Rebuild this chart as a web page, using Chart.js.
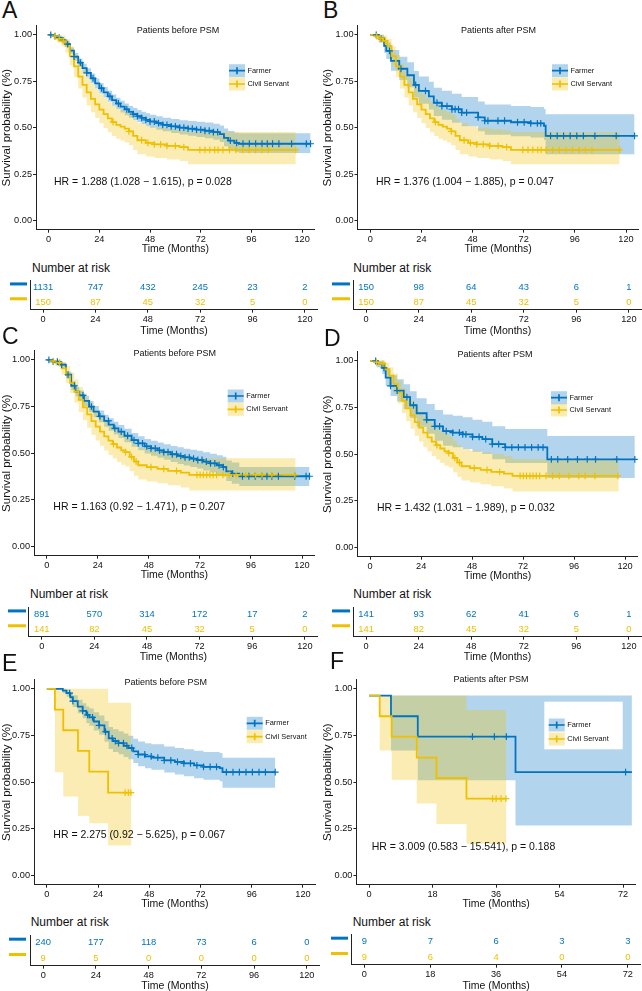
<!DOCTYPE html>
<html>
<head>
<meta charset="utf-8">
<script src="https://cdn.jsdelivr.net/npm/chart.js@4.4.1/dist/chart.umd.min.js"></script>
<style>
  html, body { margin: 0; padding: 0; background: #fff; }
  body { position: relative; width: 642px; height: 991px; overflow: hidden; font-family: "Liberation Sans", Arial, sans-serif; color: #111; }
  canvas { position: absolute; }
  .tag { position: absolute; font-size: 23px; line-height: 23px; }
  .nar { position: absolute; font-size: 12px; line-height: 12px; white-space: nowrap; }
</style>
</head>
<body>
<script>
// Dados: [tempo (meses), sobrevida, IC inferior, IC superior]
const groups = ['Farmer', 'Civil Servant'];
const monthTicks = [0, 24, 48, 72, 96, 120];
const monthTicksF = [0, 18, 36, 54, 72];
const survTicks = [0, 0.25, 0.5, 0.75, 1];

const farmerA = [
  [0,1,1,1],[2,0.993,0.988,0.998],[4,0.985,0.977,0.992],[6,0.97,0.96,0.98],[8,0.95,0.937,0.963],
  [10,0.915,0.898,0.932],[12,0.882,0.862,0.902],[14,0.85,0.828,0.872],[16,0.82,0.797,0.844],
  [18,0.795,0.77,0.82],[20,0.765,0.739,0.791],[22,0.738,0.711,0.765],[24,0.712,0.684,0.74],
  [26,0.69,0.662,0.719],[28,0.668,0.639,0.698],[30,0.648,0.618,0.678],[32,0.63,0.6,0.661],
  [34,0.613,0.582,0.645],[36,0.598,0.567,0.63],[38,0.585,0.553,0.617],[40,0.573,0.541,0.606],
  [42,0.562,0.529,0.595],[44,0.552,0.519,0.586],[46,0.542,0.508,0.577],[48,0.533,0.499,0.569],
  [51,0.524,0.489,0.561],[54,0.515,0.48,0.553],[58,0.507,0.471,0.546],[62,0.5,0.463,0.54],
  [66,0.494,0.456,0.535],[70,0.489,0.45,0.531],[74,0.483,0.443,0.527],[78,0.476,0.435,0.521],
  [81,0.465,0.422,0.512],[83,0.445,0.4,0.495],[85,0.43,0.384,0.482],[88,0.418,0.37,0.472],
  [90,0.413,0.363,0.469],[124,0.413,0.363,0.469]
];
const civil150 = [
  [0,1,1,1],[2,0.993,0.98,1],[4,0.98,0.958,1],[6,0.967,0.938,0.996],[8,0.94,0.903,0.978],
  [10,0.885,0.836,0.937],[12,0.83,0.772,0.892],[14,0.775,0.711,0.845],[16,0.73,0.662,0.805],
  [18,0.69,0.619,0.769],[20,0.655,0.583,0.736],[22,0.625,0.552,0.708],[24,0.597,0.523,0.681],
  [26,0.573,0.498,0.659],[28,0.55,0.475,0.637],[30,0.53,0.455,0.618],[32,0.515,0.44,0.603],
  [34,0.505,0.43,0.594],[36,0.495,0.42,0.584],[38,0.48,0.405,0.57],[40,0.455,0.38,0.545],
  [42,0.432,0.357,0.523],[46,0.418,0.344,0.508],[50,0.41,0.336,0.5],[56,0.402,0.328,0.492],
  [62,0.395,0.32,0.486],[66,0.38,0.302,0.477],[117,0.38,0.302,0.477]
];
const farmerB = [
  [0,1,1,1],[4,0.98,0.958,1],[6.5,0.94,0.903,0.978],[7.5,0.913,0.87,0.958],[9.7,0.86,0.806,0.918],
  [13.6,0.817,0.757,0.882],[17.4,0.782,0.718,0.852],[20.5,0.73,0.662,0.805],[22.8,0.698,0.628,0.775],
  [27.5,0.668,0.597,0.747],[29.8,0.634,0.562,0.715],[33.6,0.616,0.543,0.698],[38.3,0.599,0.526,0.682],
  [42.9,0.581,0.507,0.665],[50.6,0.555,0.48,0.641],[53.7,0.537,0.462,0.624],[66,0.529,0.454,0.617],
  [75.3,0.523,0.447,0.611],[81.5,0.51,0.433,0.6],[82.3,0.455,0.357,0.572],[124,0.455,0.357,0.572]
];
const farmerC = [
  [0,1,1,1],[3,0.99,0.983,0.997],[6,0.974,0.963,0.985],[9,0.92,0.902,0.938],[11.5,0.861,0.838,0.885],
  [13.5,0.83,0.805,0.856],[15.3,0.809,0.783,0.836],[17.5,0.78,0.752,0.808],[19.9,0.749,0.72,0.779],
  [22,0.722,0.692,0.753],[24.5,0.697,0.666,0.729],[27,0.673,0.641,0.706],[29.1,0.653,0.62,0.687],
  [31.5,0.633,0.6,0.668],[33.7,0.615,0.581,0.651],[36.5,0.593,0.558,0.63],[39.9,0.57,0.534,0.608],
  [43,0.552,0.515,0.591],[46,0.536,0.498,0.576],[49,0.525,0.486,0.566],[52.1,0.515,0.475,0.557],
  [55,0.505,0.464,0.548],[58.3,0.494,0.452,0.538],[61.5,0.485,0.442,0.531],[64.4,0.477,0.433,0.524],
  [67.5,0.47,0.425,0.518],[70.6,0.463,0.417,0.512],[73.5,0.454,0.407,0.504],[76.7,0.445,0.397,0.497],
  [80,0.435,0.386,0.489],[82.8,0.425,0.375,0.48],[84.4,0.402,0.35,0.46],[87,0.39,0.336,0.45],
  [90.5,0.376,0.324,0.425],[123.5,0.376,0.324,0.425]
];
const civil141 = [
  [0,1,1,1],[2,0.993,0.98,1],[4,0.985,0.965,1],[7,0.955,0.921,0.99],[9,0.92,0.876,0.966],
  [11,0.875,0.822,0.932],[13,0.83,0.771,0.894],[15,0.785,0.72,0.855],[17,0.745,0.676,0.821],
  [19,0.708,0.636,0.788],[21,0.672,0.598,0.755],[23,0.642,0.567,0.727],[25,0.615,0.539,0.702],
  [27,0.59,0.514,0.678],[29,0.567,0.49,0.656],[31,0.548,0.471,0.638],[33,0.53,0.453,0.621],
  [35,0.515,0.438,0.606],[37,0.505,0.428,0.596],[39,0.48,0.403,0.572],[41,0.455,0.378,0.548],
  [43,0.435,0.358,0.529],[47,0.425,0.348,0.519],[52,0.415,0.338,0.51],[57,0.405,0.328,0.5],
  [63,0.395,0.316,0.49],[67,0.383,0.3,0.472],[117,0.383,0.3,0.472]
];
const farmerD = [
  [0,1,1,1],[3,0.985,0.965,1],[5.7,0.962,0.93,0.995],[7.3,0.91,0.865,0.957],[9.6,0.866,0.812,0.923],
  [12.7,0.84,0.782,0.902],[15.8,0.806,0.742,0.875],[18.8,0.762,0.693,0.837],[21.9,0.719,0.647,0.799],
  [26.6,0.684,0.609,0.768],[30.4,0.649,0.572,0.736],[34.3,0.623,0.545,0.712],[38.9,0.615,0.537,0.705],
  [43.6,0.606,0.527,0.697],[48.2,0.592,0.512,0.684],[52.8,0.58,0.5,0.673],[57.5,0.554,0.472,0.65],
  [63.6,0.536,0.453,0.634],[83.4,0.472,0.372,0.597],[124.6,0.472,0.372,0.597]
];
const farmerE = [
  [0,1,1,1],[7.5,0.99,0.977,1],[9.2,0.977,0.958,0.996],[11,0.955,0.929,0.981],[12.2,0.934,0.903,0.966],
  [14.5,0.905,0.869,0.942],[16.8,0.882,0.842,0.923],[18.5,0.86,0.817,0.905],[19.9,0.847,0.802,0.894],
  [22,0.825,0.777,0.875],[24.5,0.804,0.754,0.857],[27,0.77,0.716,0.827],[29,0.735,0.678,0.796],
  [31,0.72,0.662,0.783],[33.6,0.709,0.65,0.773],[36,0.695,0.635,0.76],[38.2,0.683,0.622,0.749],
  [40.5,0.665,0.603,0.733],[42.8,0.648,0.585,0.718],[46,0.638,0.574,0.709],[49,0.631,0.566,0.703],
  [55,0.617,0.551,0.691],[60,0.608,0.541,0.683],[64.2,0.6,0.532,0.676],[69,0.59,0.521,0.668],
  [73.4,0.582,0.512,0.661],[81,0.575,0.504,0.656],[82.3,0.553,0.47,0.631],[107,0.553,0.47,0.631]
];
const civilE = [
  [0,1,1,1],[3.8,0.889,0.553,1],[7.7,0.778,0.423,1],[14.6,0.667,0.319,1],[19.9,0.556,0.28,1],
  [28.7,0.444,0.16,0.925],[39.6,0.444,0.16,0.925]
];
const farmerF = [
  [0,0.964,0.964,0.964],[6.2,0.853,0.669,0.964],[13.8,0.744,0.51,0.964],[41.5,0.553,0.267,0.964],
  [74.5,0.553,0.267,0.964]
];
const civilF = [
  [0,0.964,0.964,0.964],[3,0.853,0.669,0.964],[6.4,0.744,0.513,0.964],[13.5,0.631,0.385,0.964],
  [19.1,0.522,0.276,0.964],[27.6,0.411,0.17,0.887],[38.9,0.411,0.17,0.887]
];

// tempos de censura (+)
const farmerCensA = [1,3,5,7,9,12,15,18,21,25,29,33,37,40,42,44,46,48,50,52,54,56,58,60,62,64,66,68,70,72,74,76,78,80,86,89,92,95,98,101,103.5,106,109,115,122,124];
const civilCens150 = [3,5,7,30.5,38,44,47,50,53,56,60,64,71.6,74,76.3,78.6,80.2,82.5,85.6,88.7,91.8,94.9,98,101,104,117];
const farmerCensB = [2.8,5.1,9,14.4,21.3,25.9,31.3,33.6,36,38.3,39.8,41.4,42.9,45.2,50.6,53.7,55.2,59.9,63,69.1,72.2,75.3,78.4,80,84.6,87.7,90.7,93.8,96.9,100,105.4,115.4,124];
const farmerCensC = [1,3,5,7,10,13,17,21,25,29,32,35,38,41,43,45,47,49,51,53,55,57,59,61,63,65,67,69,71,73,75,77,79,81,83,87.4,92,95,98,101.2,103.5,105.8,108.9,116.6,121.9,123.5];
const civilCens141 = [3,6,31.4,37,39.9,42,49,55,61,70.6,72.1,73.6,75.2,76.7,78.2,79.8,82.8,85.9,89,93.6,98.2,101.2,105.8,116.6];
const farmerCensD = [2.6,6.5,9.6,12.7,17.3,20.4,26.6,30.4,32.7,35.8,38.9,42,43.6,45.1,48.2,51.3,54.4,57.5,60.5,63.6,66.7,69.8,72.9,76,79.1,81.4,85.3,88.3,93,97.6,102.2,106.1,116.1,124.6];
const farmerCensE = [10.7,12.2,16.8,19.1,21.4,24.5,27.5,30.6,32.1,33.6,35.9,37.5,39.8,42.8,45.9,48.9,52,55,58.1,61.2,64.2,67.3,70.3,73.4,76.5,79.5,84.1,87.2,90.2,93.3,96.3,99.4,102.4,107];
const civilCensE = [36.7,38.2,39.4];
const farmerCensF = [29.3,35.5,38.9,72.7];
const civilCensF = [35,36,37.4,38.8];

// número em risco
const riskA = [[1131,747,432,245,23,2],[150,87,45,32,5,0]];
const riskB = [[150,98,64,43,6,1],[150,87,45,32,5,0]];
const riskC = [[891,570,314,172,17,2],[141,82,45,32,5,0]];
const riskD = [[141,93,62,41,6,1],[141,82,45,32,5,0]];
const riskE = [[240,177,118,73,6,0],[9,5,0,0,0,0]];
const riskF = [[9,7,6,3,3],[9,6,4,0,0]];

const hrTexts = [
  'HR = 1.288 (1.028 \u2212 1.615), p = 0.028',
  'HR = 1.376 (1.004 \u2212 1.885), p = 0.047',
  'HR = 1.163 (0.92 \u2212 1.471), p = 0.207',
  'HR = 1.432 (1.031 \u2212 1.989), p = 0.032',
  'HR = 2.275 (0.92 \u2212 5.625), p = 0.067',
  'HR = 3.009 (0.583 \u2212 15.541), p = 0.188'
];

// Cores e estilo
Chart.defaults.font.family = '"Liberation Sans", Arial, sans-serif';
const FONT = '"Liberation Sans", Arial, sans-serif';
const BLUE = '#0073C2', YEL = '#EFC000';
const BLUE_BAND = 'rgba(0,115,194,0.3)', YEL_BAND = 'rgba(239,192,0,0.3)';
const INK = '#111', AXIS = '#222';

// Layout de cada painel (coordenadas da página)
const panels = [
  { letter: 'A', letterPos: [2, 1.7], col: 0, ticks: monthTicks, xMin: -6, xMax: 126,
    plot: { L: 36, R: 320, T: 19, B: 229, titleY: 248 },
    table: { L: 30, R: 318, T: 280, B: 309, titleY: 330, barX: 10, barW: 17 },
    nar: [32, 268], title: 'Patients before PSM', titlePos: [178, 31], hr: hrTexts[0], hrPos: [54, 181.7],
    leg: { x: 229, y1: 70.7, y2: 84 },
    farmer: farmerA, farmerCens: farmerCensA, civil: civil150, civilCens: civilCens150, risk: riskA },
  { letter: 'B', letterPos: [323, 1.7], col: 321, ticks: monthTicks, xMin: -6, xMax: 126,
    plot: { L: 357.5, R: 643.5, T: 19, B: 229, titleY: 248 },
    table: { L: 353, R: 641.5, T: 280, B: 309, titleY: 330, barX: 332, barW: 18 },
    nar: [353.3, 268], title: 'Patients after PSM', titlePos: [498.5, 31], hr: hrTexts[1], hrPos: [376, 181.7],
    leg: { x: 552, y1: 70.7, y2: 84 },
    farmer: farmerB, farmerCens: farmerCensB, civil: civil150, civilCens: civilCens150, risk: riskB },
  { letter: 'C', letterPos: [2, 328], col: 0, ticks: monthTicks, xMin: -6, xMax: 126,
    plot: { L: 34, R: 320, T: 344, B: 555, titleY: 574 },
    table: { L: 28.6, R: 317.4, T: 607, B: 636, titleY: 656, barX: 8, barW: 18 },
    nar: [30, 594.3], title: 'Patients before PSM', titlePos: [174.7, 353.3], hr: hrTexts[2], hrPos: [53.3, 507.5],
    leg: { x: 227.7, y1: 396, y2: 409.3 },
    farmer: farmerC, farmerCens: farmerCensC, civil: civil141, civilCens: civilCens141, risk: riskC },
  { letter: 'D', letterPos: [324, 330], col: 321, ticks: monthTicks, xMin: -6, xMax: 126,
    plot: { L: 357.4, R: 642.3, T: 345, B: 556, titleY: 575 },
    table: { L: 353, R: 641.5, T: 607, B: 636, titleY: 656, barX: 332, barW: 18 },
    nar: [353.3, 594.3], title: 'Patients after PSM', titlePos: [495, 354.3], hr: hrTexts[3], hrPos: [377, 508],
    leg: { x: 551, y1: 397.7, y2: 410 },
    farmer: farmerD, farmerCens: farmerCensD, civil: civil141, civilCens: civilCens141, risk: riskD },
  { letter: 'E', letterPos: [2, 655], col: 0, ticks: monthTicks, xMin: -6, xMax: 126,
    plot: { L: 34, R: 320.7, T: 673, B: 884, titleY: 903 },
    table: { L: 30, R: 320, T: 935, B: 965, titleY: 985, barX: 9, barW: 17 },
    nar: [30.7, 921.7], title: 'Patients before PSM', titlePos: [165.7, 682.3], hr: hrTexts[4], hrPos: [53.3, 835],
    leg: { x: 246.7, y1: 723.3, y2: 736.7 },
    farmer: farmerE, farmerCens: farmerCensE, civil: civilE, civilCens: civilCensE, risk: riskE },
  { letter: 'F', letterPos: [330, 653], col: 321, ticks: monthTicksF, xMin: -3.6, xMax: 75.6,
    plot: { L: 356.4, R: 640.6, T: 673, B: 884, titleY: 903 },
    table: { L: 351.2, R: 640.1, T: 934, B: 964, titleY: 985, barX: 331, barW: 17 },
    nar: [352.7, 921.7], title: 'Patients after PSM', titlePos: [491, 679.3], hr: hrTexts[5], hrPos: [371.7, 847.3],
    leg: { x: 548.7, y1: 725, y2: 739, box: [544.3, 701.7, 78.4, 47.6] },
    farmer: farmerF, farmerCens: farmerCensF, civil: civilF, civilCens: civilCensF, risk: riskF }
];

// KM: valor do degrau vigente no tempo t
function stepAt(curve, t) {
  let s = curve[0][1];
  curve.forEach(r => { if (r[0] <= t) s = r[1]; });
  return s;
}
const column = (curve, k) => curve.map(r => ({ x: r[0], y: r[k] }));
const censPoints = (curve, times) => times.map(t => ({ x: t, y: stepAt(curve, t) }));

function addCanvas(left, top, w, h) {
  const c = document.createElement('canvas');
  c.width = Math.ceil(w);
  c.height = Math.ceil(h);
  c.style.left = left + 'px';
  c.style.top = top + 'px';
  document.body.appendChild(c);
  return c;
}

function addDiv(cls, text, left, top) {
  const d = document.createElement('div');
  d.className = cls;
  d.textContent = text;
  d.style.left = left + 'px';
  d.style.top = top + 'px';
  document.body.appendChild(d);
}

function xScale(p, g, xH) {
  return {
    type: 'linear', min: p.xMin, max: p.xMax,
    afterBuildTicks: s => { s.ticks = p.ticks.map(v => ({ value: v })); },
    afterFit: s => { s.height = xH; },
    grid: { display: true, drawOnChartArea: false, drawTicks: true, tickLength: 3, color: AXIS, lineWidth: 1 },
    border: { display: true, color: AXIS, width: 1 },
    ticks: { color: INK, font: { size: 9.2 }, padding: 1, maxRotation: 0, autoSkip: false },
    title: { display: true, text: 'Time (Months)', color: INK, font: { size: 10.5 }, padding: 0 }
  };
}

function drawKey(ctx, x, y, color, band, label) {
  ctx.fillStyle = band;
  ctx.fillRect(x, y - 6.5, 16, 13);
  ctx.strokeStyle = color;
  ctx.lineWidth = 1.7;
  ctx.beginPath();
  ctx.moveTo(x, y); ctx.lineTo(x + 16, y);
  ctx.moveTo(x + 8, y - 3.5); ctx.lineTo(x + 8, y + 3.5);
  ctx.stroke();
  ctx.fillStyle = INK;
  ctx.font = '7.4px ' + FONT;
  ctx.textAlign = 'left';
  ctx.fillText(label, x + 18.5, y);
}

function kmPlot(p) {
  const g = p.plot, ox = p.col, oy = g.T;
  const xH = g.titleY + 6.3 - g.B;
  const cv = addCanvas(ox, oy, g.R - ox, g.B - g.T + xH);

  const labels = {
    id: 'kmLabels',
    afterDatasetsDraw(chart) {
      const ctx = chart.ctx;
      ctx.save();
      ctx.textBaseline = 'middle';
      ctx.fillStyle = INK;
      ctx.textAlign = 'center';
      ctx.font = '9px ' + FONT;
      ctx.fillText(p.title, p.titlePos[0] - ox, p.titlePos[1] - oy);
      ctx.textAlign = 'left';
      ctx.font = '10.5px ' + FONT;
      ctx.fillText(p.hr, p.hrPos[0] - ox, p.hrPos[1] - oy);
      const L = p.leg;
      if (L.box) {
        ctx.fillStyle = '#fff';
        ctx.fillRect(L.box[0] - ox, L.box[1] - oy, L.box[2], L.box[3]);
      }
      drawKey(ctx, L.x - ox, L.y1 - oy, BLUE, BLUE_BAND, groups[0]);
      drawKey(ctx, L.x - ox, L.y2 - oy, YEL, YEL_BAND, groups[1]);
      ctx.restore();
    }
  };

  const band = (curve, k, fill, color, order) => ({
    data: column(curve, k), fill: fill, backgroundColor: color, borderColor: 'transparent',
    borderWidth: 0, pointRadius: 0, stepped: true, order: order
  });
  const line = (curve, color, order) => ({
    data: column(curve, 1), fill: false, borderColor: color, backgroundColor: color,
    borderWidth: 1.8, pointRadius: 0, stepped: true, order: order
  });
  const marks = (curve, times, color, order) => ({
    data: censPoints(curve, times), showLine: false, fill: false, pointStyle: 'cross',
    pointRadius: 3.4, pointBorderWidth: 1.2, pointBorderColor: color, borderColor: color,
    backgroundColor: color, order: order
  });

  new Chart(cv, {
    type: 'line',
    data: {
      datasets: [
        band(p.farmer, 3, '+1', BLUE_BAND, 12),
        band(p.farmer, 2, false, 'transparent', 12),
        band(p.civil, 3, '+1', YEL_BAND, 11),
        band(p.civil, 2, false, 'transparent', 11),
        line(p.farmer, BLUE, 4),
        line(p.civil, YEL, 3),
        marks(p.farmer, p.farmerCens, BLUE, 2),
        marks(p.civil, p.civilCens, YEL, 1)
      ]
    },
    options: {
      responsive: false, animation: false, devicePixelRatio: 1,
      layout: { padding: 0 },
      events: [],
      plugins: { legend: { display: false }, tooltip: { enabled: false }, colors: { enabled: false } },
      scales: {
        x: xScale(p, g, xH),
        y: {
          type: 'linear', min: -0.05, max: 1.05,
          afterBuildTicks: s => { s.ticks = survTicks.map(v => ({ value: v })); },
          afterFit: s => { s.width = g.L - ox; },
          grid: { display: true, drawOnChartArea: false, drawTicks: true, tickLength: 3, color: AXIS, lineWidth: 1 },
          border: { display: true, color: AXIS, width: 1 },
          ticks: { color: INK, font: { size: 9.2 }, padding: 1, callback: v => v.toFixed(2) },
          title: { display: true, text: 'Survival probability (%)', color: INK, font: { size: 11.5 }, padding: 0 }
        }
      }
    },
    plugins: [labels]
  });
}

function riskTable(p) {
  const g = p.table, ox = p.col, oy = g.T;
  const xH = g.titleY + 6.3 - g.B;
  const cv = addCanvas(ox, oy, g.R - ox, g.B - g.T + xH);

  const numbers = {
    id: 'riskNumbers',
    afterDraw(chart) {
      const { ctx, scales: { x, y } } = chart;
      ctx.save();
      ctx.font = '9.4px ' + FONT;
      ctx.textAlign = 'center';
      ctx.textBaseline = 'middle';
      p.risk.forEach((row, r) => {
        const yy = y.getPixelForValue(2 - r);
        ctx.fillStyle = r ? YEL : BLUE;
        row.forEach((n, i) => ctx.fillText(String(n), x.getPixelForValue(p.ticks[i]), yy));
        ctx.fillRect(g.barX - ox, yy - 5, g.barW, 3);
      });
      ctx.restore();
    }
  };

  new Chart(cv, {
    type: 'scatter',
    data: { datasets: [] },
    options: {
      responsive: false, animation: false, devicePixelRatio: 1,
      layout: { padding: 0 },
      events: [],
      plugins: { legend: { display: false }, tooltip: { enabled: false } },
      scales: {
        x: xScale(p, g, xH),
        y: {
          type: 'linear', min: 0.5, max: 2.5,
          afterFit: s => { s.width = g.L - ox; },
          grid: { display: false },
          border: { display: true, color: AXIS, width: 1 },
          ticks: { display: false }
        }
      }
    },
    plugins: [numbers]
  });
}

panels.forEach(p => {
  addDiv('tag', p.letter, p.letterPos[0], p.letterPos[1] - 3);
  addDiv('nar', 'Number at risk', p.nar[0], p.nar[1] - 5.9);
  kmPlot(p);
  riskTable(p);
});
</script>
</body>
</html>
